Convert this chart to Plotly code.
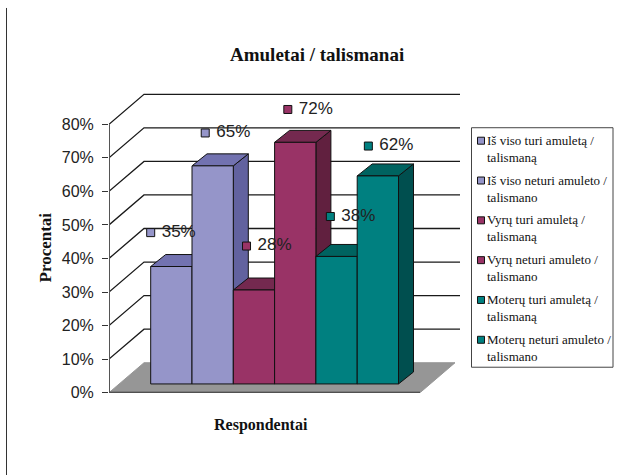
import plotly.graph_objects as go

# values
series_names = [
    "Iš viso turi amuletą /<br>talismaną",
    "Iš viso neturi amuleto /<br>talismano",
    "Vyrų turi amuletą /<br>talismaną",
    "Vyrų neturi amuleto /<br>talismano",
    "Moterų turi amuletą /<br>talismaną",
    "Moterų neturi amuleto /<br>talismano",
]
values = [35, 65, 28, 72, 38, 62]
tick_values = [0, 10, 20, 30, 40, 50, 60, 70, 80]
tick_labels = ["0%", "10%", "20%", "30%", "40%", "50%", "60%", "70%", "80%"]

# colours per series: front, top, side
front = ["#9595C9", "#9595C9", "#993366", "#993366", "#008080", "#008080"]
top = ["#7272B0", "#7272B0", "#74294F", "#74294F", "#006360", "#006360"]
side = ["#62629F", "#62629F", "#61203F", "#61203F", "#004F4F", "#004F4F"]

W, H = 620, 476
LAYOUT_H = 484  # the page comes out 8px shorter than the layout height asks for
PX_X = 41.3    # pixels per bar
PX_Y = 3.3625  # pixels per percent
X0, Y0 = 150.7, 393.5  # pixel of the first bar's left edge, pixel of 0%
LEFT, RIGHT, TOP = 109, 460, 86.5

# 3d offsets, in data units
wall_dx, wall_dy = 35 / PX_X, 30 / PX_Y
bar_dx, bar_dy = 15 / PX_X, 12 / PX_Y
bar_base = 2.6
floor_right = (420 - X0) / PX_X
x_left = (LEFT - X0) / PX_X
x_right = (RIGHT - X0) / PX_X
y_top = (Y0 - TOP) / PX_Y

# data label offsets from the bar top (x in bars, y in percent)
label_dx = [0.0, 0.32, 0.32, 0.32, 0.35, 0.27]
label_dy = [10.1, 9.8, 13.1, 9.8, 11.9, 8.9]
label_gap = 11 / PX_X


def polygon(xs, ys, fill, line="#111111", width=1):
    return go.Scatter(
        x=xs + xs[:1], y=ys + ys[:1], mode="lines", fill="toself",
        fillcolor=fill, line=dict(color=line, width=width),
        hoverinfo="skip", showlegend=False,
    )


fig = go.Figure()

# back wall and side wall grid
grid_x, grid_y = [], []
for v in tick_values[1:]:
    grid_x += [x_left, x_left + wall_dx, x_right, None]
    grid_y += [v, v + wall_dy, v + wall_dy, None]
fig.add_trace(go.Scatter(x=grid_x, y=grid_y, mode="lines", hoverinfo="skip", showlegend=False,
                         line=dict(color="#1a1a1a", width=1.3)))

# floor
fig.add_trace(polygon([x_left, x_left + wall_dx, floor_right + wall_dx, floor_right],
                      [0, wall_dy, wall_dy, 0], "#969696", line="#969696"))
fig.add_trace(go.Scatter(x=[x_left, floor_right], y=[0, 0], mode="lines", hoverinfo="skip",
                         showlegend=False, line=dict(color="#333333", width=2)))

# value axis line
fig.add_trace(go.Scatter(x=[x_left, x_left], y=[0, 80], mode="lines", hoverinfo="skip",
                         showlegend=False, line=dict(color="#555555", width=2)))

# bars, left to right so each front hides the side of the one before
for i, v in enumerate(values):
    t = bar_base + v
    fig.add_trace(polygon([i + 1, i + 1 + bar_dx, i + 1 + bar_dx, i + 1],
                          [bar_base, bar_base + bar_dy, t + bar_dy, t], side[i]))
    fig.add_trace(polygon([i, i + bar_dx, i + 1 + bar_dx, i + 1],
                          [t, t + bar_dy, t + bar_dy, t], top[i]))
    fig.add_trace(polygon([i, i + 1, i + 1, i], [bar_base, bar_base, t, t], front[i]))

# data labels with their little legend keys
label_x = [i + label_dx[i] for i in range(len(values))]
label_y = [bar_base + v + label_dy[i] for i, v in enumerate(values)]
fig.add_trace(go.Scatter(
    x=label_x, y=label_y, mode="markers", hoverinfo="skip", showlegend=False,
    marker=dict(symbol="square", size=8, color=front, line=dict(color="#111111", width=1)),
))
fig.add_trace(go.Scatter(
    x=[x + label_gap for x in label_x], y=label_y, mode="text",
    text=[f"{v}%" for v in values],
    textposition="middle right",
    textfont=dict(family="Liberation Sans", size=17, color="#222222"),
    hoverinfo="text", showlegend=False,
))

fig.update_layout(
    width=W, height=LAYOUT_H, autosize=False,
    margin=dict(l=0, r=0, t=0, b=0),
    paper_bgcolor="white", plot_bgcolor="white",
    showlegend=False,
    xaxis=dict(domain=[LEFT / W, RIGHT / W], range=[x_left, x_right], visible=False),
    yaxis=dict(
        domain=[1 - Y0 / H, 1 - TOP / H], range=[0, y_top],
        tickvals=tick_values, ticktext=tick_labels,
        ticks="outside", ticklen=6, tickcolor="#333333", tickwidth=1,
        ticklabelstandoff=5,
        showgrid=False, zeroline=False, showline=False,
        tickfont=dict(family="Liberation Sans", size=16, color="#222222"),
    ),
)


def px_text(text, x, y, size, xanchor="center", **kw):
    fig.add_annotation(xref="paper", yref="paper", x=x / W, y=1 - y / H, text=text, showarrow=False,
                       xanchor=xanchor, yanchor="middle",
                       font=dict(family="Liberation Serif", size=size, color="#111111"), **kw)


px_text("<b>Amuletai / talismanai</b>", 317, 55, 19)
px_text("<b>Respondentai</b>", 261, 426, 16)
px_text("<b>Procentai</b>", 45, 248, 17, textangle=-90)

# legend box
fig.add_shape(type="rect", xref="paper", yref="paper", x0=471.5 / W, x1=613 / W,
              y0=1 - 368 / H, y1=1 - 128 / H, line=dict(color="#444444", width=1), fillcolor="white")
for i, name in enumerate(series_names):
    yc = 141 + i * 39.9
    fig.add_shape(type="rect", xref="paper", yref="paper", x0=477.5 / W, x1=484.5 / W,
                  y0=1 - (yc + 3.5) / H, y1=1 - (yc - 3.5) / H,
                  line=dict(color="#111111", width=1), fillcolor=front[i])
    px_text(name, 485, yc + 8, 13, xanchor="left", align="left")

# page border line on the left
fig.add_shape(type="line", xref="paper", yref="paper", x0=6.5 / W, x1=6.5 / W, y0=0, y1=1 - 8 / H,
              line=dict(color="#333333", width=1))

fig.write_html("out.html", config=dict(displayModeBar=False),
               post_script="document.body.style.margin = '0';")
